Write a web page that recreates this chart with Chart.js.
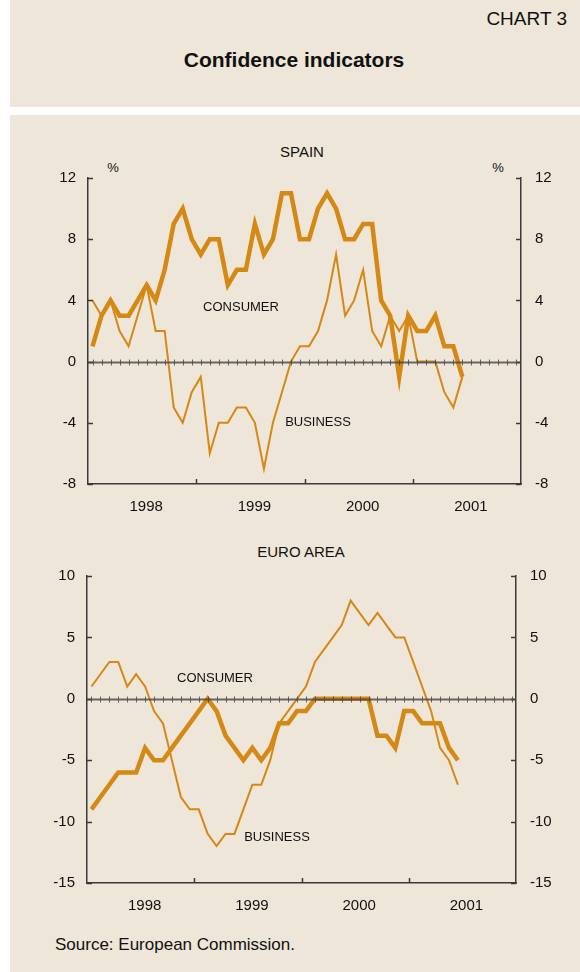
<!DOCTYPE html>
<html><head><meta charset="utf-8">
<script src="https://cdn.jsdelivr.net/npm/chart.js@4.4.0/dist/chart.umd.min.js"></script>
<style>
html,body{margin:0;padding:0;background:#fff;}
body{width:580px;height:972px;position:relative;overflow:hidden;font-family:"Liberation Sans",Arial,sans-serif;color:#111;}
.box{position:absolute;background:#EEE6D8;}
.t{position:absolute;white-space:nowrap;line-height:1;transform:translate(-50%,-50%);}
.w{position:absolute;left:0;width:580px;}
</style></head><body>
<div class="box" style="left:10px;top:0;width:570px;height:107px"></div>
<div class="box" style="left:10px;top:115px;width:570px;height:857px"></div>

<div class="t" style="left:567px;top:18px;font-size:19px;transform:translate(-100%,-50%)">CHART 3</div>
<div class="t" style="left:294px;top:59px;font-size:21px;font-weight:bold">Confidence indicators</div>

<div class="t" style="left:302px;top:151px;font-size:15px">SPAIN</div>
<div class="t" style="left:113px;top:167px;font-size:13px">%</div>
<div class="t" style="left:498px;top:167px;font-size:13px">%</div>

<div class="w" style="top:120px;height:410px"><canvas id="c1" width="580" height="410"></canvas></div>

<div class="t" style="left:241px;top:306px;font-size:13px">CONSUMER</div>
<div class="t" style="left:318px;top:421px;font-size:13px">BUSINESS</div>

<div class="t" style="left:301px;top:551px;font-size:15px">EURO AREA</div>

<div class="w" style="top:530px;height:400px"><canvas id="c2" width="580" height="400"></canvas></div>

<div class="t" style="left:215px;top:677px;font-size:13px">CONSUMER</div>
<div class="t" style="left:277px;top:836px;font-size:13px">BUSINESS</div>

<div class="t" style="left:55px;top:944px;font-size:17px;transform:translate(0,-50%)">Source: European Commission.</div>

<script>
// Monthly data, January 1998 – June 2001
const years = ['1998', '1999', '2000', '2001'];
const spainConsumer = [1,3,4,3,3,4,5,4,6,9,10,8,7,8,8,5,6,6,9,7,8,11,11,8,8,10,11,10,8,8,9,9,4,3,-1,3,2,2,3,1,1,-1];
const spainBusiness = [4,3,4,2,1,3,5,2,2,-3,-4,-2,-1,-6,-4,-4,-3,-3,-4,-7,-4,-2,0,1,1,2,4,7,3,4,6,2,1,3,2,3,0,0,0,-2,-3,-1];
const euroConsumer = [-9,-8,-7,-6,-6,-6,-4,-5,-5,-4,-3,-2,-1,0,-1,-3,-4,-5,-4,-5,-4,-2,-2,-1,-1,0,0,0,0,0,0,0,-3,-3,-4,-1,-1,-2,-2,-2,-4,-5];
const euroBusiness = [1,2,3,3,1,2,1,-1,-2,-5,-8,-9,-9,-11,-12,-11,-11,-9,-7,-7,-5,-2,-1,0,1,3,4,5,6,8,7,6,7,6,5,5,3,1,-1,-4,-5,-7];
const spainTicks = [-8,-4,0,4,8,12];
const euroTicks = [-15,-10,-5,0,5,10];

const LINE = 'rgb(213,137,20)';
const AXIS = '#3a3a3a';
const MONTHS = years.length * 12;

const decor = {
  id: 'decor',
  afterDatasetsDraw(chart) {
    const {ctx, chartArea: a, scales: {x, y}} = chart;
    ctx.save();
    ctx.strokeStyle = AXIS;
    ctx.lineWidth = 1.5;
    ctx.beginPath();
    y.ticks.forEach(t => {
      const py = Math.round(y.getPixelForValue(t.value)) + 0.5;
      ctx.moveTo(a.left, py); ctx.lineTo(a.left + 5, py);
      ctx.moveTo(a.right - 5, py); ctx.lineTo(a.right, py);
    });
    for (let k = 1; k < years.length; k++) {
      const px = Math.round(x.getPixelForValue(k * 12)) + 0.5;
      ctx.moveTo(px, a.bottom); ctx.lineTo(px, a.bottom - 5);
    }
    ctx.stroke();
    const z = Math.round(y.getPixelForValue(0)) + 0.5;
    ctx.strokeStyle = 'rgba(70,70,70,0.8)';
    ctx.lineWidth = 2;
    ctx.beginPath(); ctx.moveTo(a.left, z); ctx.lineTo(a.right, z); ctx.stroke();
    ctx.lineWidth = 1;
    ctx.beginPath();
    for (let i = 0; i < MONTHS; i++) {
      const px = Math.round(x.getPixelForValue(i + 0.5)) + 0.5;
      ctx.moveTo(px, z - 3); ctx.lineTo(px, z + 3);
    }
    ctx.stroke();
    ctx.restore();
  }
};

function pts(arr) { return arr.map((v, i) => ({x: i + 0.5, y: v})); }

function makeChart(id, cons, bus, ticks, leftW, rightW, padTop, xH) {
  const font = {family: '"Liberation Sans", Arial, sans-serif', size: 15};
  const yScale = (pos, w, pad) => ({
    type: 'linear', position: pos, min: ticks[0], max: ticks[ticks.length - 1],
    afterBuildTicks: s => { s.ticks = ticks.map(v => ({value: v})); },
    afterFit: s => { s.width = w; },
    grid: {display: false, drawTicks: false},
    border: {display: true, color: AXIS, width: 1.5},
    ticks: {font, color: '#111', padding: pad}
  });
  return new Chart(document.getElementById(id), {
    type: 'line',
    data: {datasets: [
      {label: 'Consumer', data: pts(cons), borderColor: LINE, borderWidth: 4.5, pointRadius: 0, tension: 0, fill: false},
      {label: 'Business', data: pts(bus), borderColor: LINE, borderWidth: 2, pointRadius: 0, tension: 0, fill: false}
    ]},
    options: {
      responsive: false, animation: false, devicePixelRatio: 1,
      layout: {padding: {top: padTop, left: 0, right: 0, bottom: 0}},
      plugins: {legend: {display: false}, tooltip: {enabled: false}, title: {display: false}},
      scales: {
        x: {
          type: 'linear', position: 'bottom', min: 0, max: MONTHS,
          afterBuildTicks: s => { s.ticks = years.map((yy, k) => ({value: k * 12 + 6})); },
          afterFit: s => { s.height = xH; },
          grid: {display: false, drawTicks: false},
          border: {display: true, color: AXIS, width: 1.5},
          ticks: {font, color: '#111', padding: 14, autoSkip: false, maxRotation: 0, labelOffset: 4,
                  callback: (v, i) => years[i]}
        },
        y: yScale('left', leftW, 12),
        y2: yScale('right', rightW, 14)
      }
    },
    plugins: [decor]
  });
}

makeChart('c1', spainConsumer, spainBusiness, spainTicks, 88, 59, 58, 46);
makeChart('c2', euroConsumer, euroBusiness, euroTicks, 87, 64, 46, 47);
</script>
</body></html>
